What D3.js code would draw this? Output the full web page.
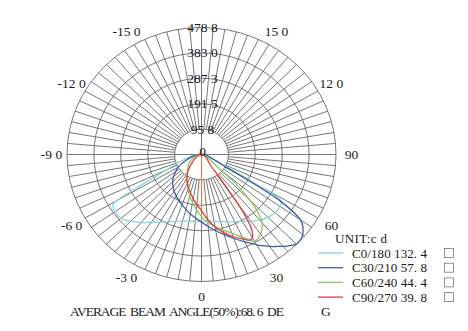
<!DOCTYPE html>
<html><head><meta charset="utf-8">
<script src="https://cdn.jsdelivr.net/npm/d3@7"></script>
<style>body{margin:0;background:#fff}svg{display:block}</style>
</head><body>
<script>
const angles = [-90,-80,-72,-68,-65,-63,-61,-59,-55,-50,-45,-40,-35,-30,-25,-20,-15,-10,-5,0,5,10,15,20,25,28,30,32,34,36,38,40,43,45,48,50,53,55,58,60,62,65,70,80,90];
const c0_180  = [12,40,70,100,140,185,280,367,376,375,355,335,312,294,280,268,260,255,253,252,253,256,262,270,280,287,292,297,303,310,316,322,330,335,339,341,342,341,335,240,130,65,30,15,8];
const c30_210 = [10,25,45,60,72,82,92,100,112,130,145,158,170,180,192,202,214,228,240,255,272,292,313,337,363,380,393,405,417,429,440,452,468,478,476,470,452,430,330,170,90,55,35,18,10];
const c60_240 = [5,10,22,28,33,36,40,44,52,60,68,78,90,105,122,140,162,185,208,234,255,275,295,315,345,365,378,376,370,362,350,335,290,245,160,85,55,45,35,30,27,22,15,8,5];
const c90_270 = [5,8,12,15,17,19,21,23,30,40,52,70,88,105,118,135,150,170,190,212,245,278,305,330,352,366,362,340,280,130,55,42,35,32,28,26,24,22,20,18,16,14,10,7,5];
const nadirValue = [237];
const seriesNames = ["C0/180 132. 4","C30/210 57. 8","C60/240 44. 4","C90/270 39. 8"];
const seriesColors = ["#86d3da","#3e5ea8","#84c95a","#e03c3c"];
const ringValues = [95.8,191.5,287.3,383.0,478.8];
const ringLabels = ["0","95 8","191 5","287 3","383 0","478 8"];
const angleTicks = [0,30,60,90,120,150,-150,-120,-90,-60,-30];
const angleTickLabels = ["0","30","60","90","12 0","15 0","-15 0","-12 0","-9 0","-6 0","-3 0"];
const maxVal = 478.8;

const W=468,H=331, cx=201.5, cy=154.5, rx=134.5, ry=127;
const svg=d3.select("body").append("svg").attr("width",W).attr("height",H);
const sx=d3.scaleLinear().domain([-maxVal,maxVal]).range([cx-rx,cx+rx]);
const sy=d3.scaleLinear().domain([-maxVal,maxVal]).range([cy-ry,cy+ry]);
const rad=d=>d*Math.PI/180;
const px=(a,v)=>sx(v*Math.sin(rad(a)));
const py=(a,v)=>sy(v*Math.cos(rad(a)));
const font="'Liberation Serif','DejaVu Serif',serif";

const grid=svg.append("g").attr("fill","none").attr("stroke","#5e5e5e").attr("stroke-width",0.85);
ringValues.forEach(v=>{
  grid.append("ellipse").attr("cx",cx).attr("cy",cy).attr("rx",sx(v)-cx).attr("ry",sy(v)-cy);
});
d3.range(0,360,5).forEach(a=>{
  const full = a%90===0;
  const r0 = full?0:ringValues[0];
  grid.append("line").attr("x1",px(a,r0)).attr("y1",py(a,r0)).attr("x2",px(a,maxVal)).attr("y2",py(a,maxVal));
});

// nadir line
svg.append("line").attr("x1",px(0,0)).attr("y1",py(0,0)).attr("x2",px(0,nadirValue[0])).attr("y2",py(0,nadirValue[0]))
  .attr("stroke","#c9874f").attr("stroke-width",1.2);

// curves
const line=d3.line().x(d=>px(d[0],d[1])).y(d=>py(d[0],d[1])).curve(d3.curveCatmullRomClosed.alpha(0.5));
[c0_180,c30_210,c60_240,c90_270].forEach((s,i)=>{
  svg.append("path").attr("d",line(angles.map((a,j)=>[a,s[j]])))
    .attr("fill","none").attr("stroke",seriesColors[i]).attr("stroke-width",1.3);
});

// radial labels
ringLabels.forEach((t,i)=>{
  const v=i===0?0:ringValues[i-1];
  svg.append("text").attr("x",cx+1).attr("y",(i===0?cy-3:sy(-v))+4.5).attr("text-anchor","middle")
    .attr("font-family",font).attr("font-size",13.5).attr("fill","#1a1a1a").style("white-space","pre").text(t);
});
// angle labels
angleTicks.forEach((a,i)=>{
  const k=1.115;
  svg.append("text").attr("x",px(a,maxVal*k)).attr("y",py(a,maxVal*k)+4.5).attr("text-anchor","middle")
    .attr("font-family",font).attr("font-size",13.5).attr("fill","#1a1a1a").style("white-space","pre").text(angleTickLabels[i]);
});

// legend
svg.append("text").attr("x",335).attr("y",243).attr("font-family",font).attr("font-size",13).attr("fill","#1a1a1a")
  .attr("textLength",52).attr("lengthAdjust","spacing").style("white-space","pre").text("UNIT:c d");
seriesNames.forEach((n,i)=>{
  const y=253+i*14.7;
  svg.append("line").attr("x1",318).attr("x2",343).attr("y1",y).attr("y2",y).attr("stroke",seriesColors[i]).attr("stroke-width",1.3);
  svg.append("text").attr("x",352).attr("y",y+4.5).attr("font-family",font).attr("font-size",13).attr("fill","#1a1a1a")
    .attr("textLength",75).attr("lengthAdjust","spacing").style("white-space","pre").text(n);
  svg.append("rect").attr("x",444.5).attr("y",y-4.5).attr("width",9).attr("height",9).attr("fill","none").attr("stroke","#777").attr("stroke-width",0.8);
});
svg.append("text").attr("x",70).attr("y",316).attr("font-family",font).attr("font-size",13.5).attr("fill","#1a1a1a")
  .attr("textLength",214).attr("lengthAdjust","spacing").style("white-space","pre").text("AVERAGE  BEAM  ANGLE(50%):68. 6  DE");
svg.append("text").attr("x",321).attr("y",316).attr("font-family",font).attr("font-size",13.5).attr("fill","#1a1a1a").text("G");
</script>
</body></html>
